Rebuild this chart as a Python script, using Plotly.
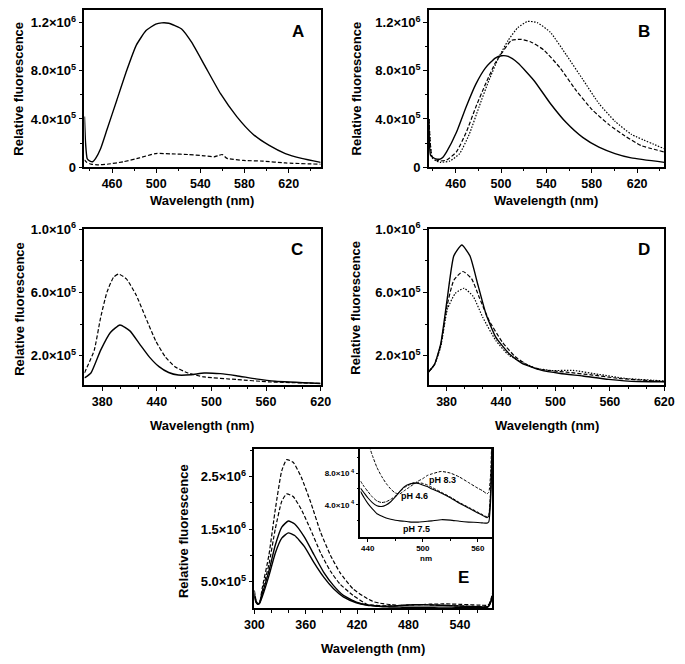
import plotly.graph_objects as go

W, H = 685, 664

# ---------------- data ----------------
# Panel A
A_wl_solid = [435, 436, 437.5, 440, 442.5, 445, 449.6, 455.5, 464.3, 473.1, 482, 490.8, 499.6, 505, 511.3, 517,
              523, 531.9, 543.6, 558.3, 573, 587.7, 602.4, 617, 631.8, 649]
A_solid = [4.2e5, 2.0e5, 7.0e4, 5.0e4, 4.5e4, 7.0e4, 1.53e5, 3.15e5, 5.56e5, 7.98e5, 1.013e6, 1.134e6, 1.188e6,
           1.198e6, 1.195e6, 1.175e6, 1.148e6, 1.04e6, 8.5e5, 6.1e5, 4.2e5, 2.74e5, 1.8e5, 1.13e5, 7.3e4, 4.0e4]
A_wl_dash = [435, 437, 441, 446.7, 455.5, 470.2, 484.9, 499.6, 514.3, 528.9, 543.6, 552.4, 556, 559.8, 564.2, 579,
             596.5, 617, 649]
A_dash = [6.0e4, 4.0e4, 2.5e4, 1.9e4, 2.4e4, 4.5e4, 7.7e4, 1.13e5, 1.1e5, 1.05e5, 9.4e4, 8.6e4, 9.5e4, 1.05e5,
          7.3e4, 5.6e4, 5.0e4, 3.5e4, 2.4e4]

# Panel B
B_wl_solid = [436.4, 437.8, 440, 443.5, 446.3, 449, 452, 460.6, 469.2, 477.8, 486.3, 494.9, 500.6, 506.3, 514.9,
              529.2, 543.5, 557.7, 572, 586.3, 600.5, 614.8, 644]
B_solid = [4.0e5, 1.0e5, 8.0e4, 6.7e4, 6.7e4, 8.5e4, 1.26e5, 2.87e5, 5.0e5, 6.9e5, 8.25e5, 9.06e5, 9.25e5, 9.2e5,
           8.65e5, 7.18e5, 5.29e5, 3.68e5, 2.47e5, 1.66e5, 1.13e5, 7.7e4, 4.0e4]
B_wl_dash = [436.4, 439.2, 443, 446.3, 452, 460.6, 469.2, 477.8, 486.3, 494.9, 500.6, 509.2, 517.8, 526.3, 537.7,
             552, 566.2, 580.5, 594.9, 609, 623.4, 644]
B_dash = [4.0e5, 8.6e4, 6.0e4, 5.1e4, 5.9e4, 1.26e5, 2.87e5, 5.0e5, 6.9e5, 8.65e5, 9.46e5, 1.053e6, 1.061e6,
          1.04e6, 9.73e5, 8.25e5, 6.37e5, 4.76e5, 3.55e5, 2.6e5, 1.8e5, 1.26e5]
B_wl_dot = [436.4, 439.2, 443, 446.3, 454.9, 463.5, 472, 480.6, 489.2, 497.7, 506.3, 514.9, 523.4, 532, 543.5,
            557.7, 572, 586.3, 600.5, 614.8, 644]
B_dot = [4.0e5, 7.9e4, 5.0e4, 4.0e4, 5.1e4, 1.13e5, 2.74e5, 5.0e5, 7.18e5, 9.06e5, 1.053e6, 1.16e6, 1.21e6, 1.2e6,
         1.12e6, 9.3e5, 7.3e5, 5.29e5, 3.81e5, 2.74e5, 1.53e5]

# Panel C
C_wl_dash = [360.5, 371.2, 378.2, 385.3, 392.5, 397.8, 406.6, 417.3, 427.9, 438.6, 449.3, 459.9, 474.1, 491.9,
             527.4, 563, 620]
C_dash = [9.2e4, 2.35e5, 4.4e5, 6.04e5, 6.97e5, 7.17e5, 6.86e5, 5.84e5, 4.4e5, 2.97e5, 1.94e5, 1.32e5, 9.2e4,
          6.7e4, 5.1e4, 3.6e4, 2.6e4]
C_wl_solid = [360.5, 367.6, 378.2, 389, 399.5, 410.4, 421, 431.7, 442.4, 453, 463.6, 477.7, 491.9, 509.7, 527.4,
              548.7, 570, 620]
C_solid = [6.1e4, 9.2e4, 2.35e5, 3.48e5, 3.95e5, 3.58e5, 2.76e5, 1.94e5, 1.32e5, 9.5e4, 7.9e4, 8.1e4, 9.2e4,
           8.8e4, 7.5e4, 5.5e4, 4.0e4, 2.6e4]

# Panel D
D_wl_solid = [360.2, 366.6, 373.6, 380.8, 388, 396.8, 405.7, 414.6, 423.5, 434.2, 448.4, 462.7, 484, 505.4, 530.2,
              558.7, 590.8, 620]
D_solid = [9.97e4, 1.45e5, 2.78e5, 5.65e5, 8.32e5, 9.0e5, 8.32e5, 6.47e5, 4.63e5, 3.19e5, 2.17e5, 1.55e5, 1.1e5,
           8.9e4, 7.3e4, 5.2e4, 3.8e4, 3.7e4]
D_wl_dash = [360.2, 366.6, 373.6, 380.8, 388, 397.9, 407.5, 416.3, 427, 441.3, 455.5, 470, 484, 512.4, 540.9,
             569.4, 620]
D_dash = [9.97e4, 1.45e5, 2.7e5, 5.24e5, 6.78e5, 7.33e5, 6.88e5, 5.65e5, 4.22e5, 2.88e5, 1.96e5, 1.4e5, 1.14e5,
          9.7e4, 7.9e4, 5.8e4, 3.8e4]
D_wl_dot = [360.2, 366.6, 373.6, 380.8, 389.6, 399.3, 409.3, 420, 434.2, 448.4, 477.4, 494.7, 519.6, 548, 576.5, 620]
D_dot = [9.97e4, 1.45e5, 2.6e5, 4.93e5, 5.95e5, 6.27e5, 5.75e5, 4.42e5, 2.98e5, 2.06e5, 1.24e5, 1.08e5, 1.08e5,
         8.3e4, 5.8e4, 4.2e4]

# Panel E: main peak region
E_wl_dash = [300, 302, 304, 306, 309.4, 317, 324.5, 332, 337.7, 345.3, 354.7, 366, 377.4, 388.7, 400, 415.1]
E_dash1 = [3.4e5, 1.5e5, 8.0e4, 1.0e5, 4.0e5, 1.01e6, 1.88e6, 2.61e6, 2.82e6, 2.77e6, 2.49e6, 2.0e6, 1.44e6,
           1.01e6, 6.77e5, 3.69e5]
E_dash2 = [2.8e5, 1.4e5, 8.0e4, 1.0e5, 3.4e5, 8.3e5, 1.51e6, 2.03e6, 2.17e6, 2.12e6, 1.88e6, 1.48e6, 1.05e6,
           7.07e5, 4.6e5, 2.46e5]
E_wl_solid = [300, 302, 304, 306, 309.4, 317, 324.5, 332, 339.6, 347.1, 358.5, 369.8, 381.2, 392.5, 403.8, 419]
E_solid1 = [2.5e5, 1.2e5, 8.0e4, 1.0e5, 2.77e5, 7.07e5, 1.2e6, 1.54e6, 1.655e6, 1.6e6, 1.35e6, 1.01e6, 6.77e5,
            4.3e5, 2.46e5, 1.17e5]
E_solid2 = [2.2e5, 1.1e5, 7.5e4, 9.0e4, 2.27e5, 6.15e5, 1.05e6, 1.33e6, 1.43e6, 1.38e6, 1.17e6, 8.6e5, 5.85e5,
            3.69e5, 2.16e5, 1.05e5]

# Panel E: tail region (also shown in the inset)
T_wl = [432, 436, 440, 445, 450, 455, 460, 465, 470, 475, 480, 485, 490, 495, 500, 505, 510, 520, 530, 540, 550,
        560, 565, 570, 572, 574, 576, 578]
T_ph83 = [1.8e5, 1.5e5, 1.2e5, 1.02e5, 8.7e4, 7.6e4, 6.7e4, 6.0e4, 5.5e4, 5.4e4, 5.8e4, 6.2e4, 6.6e4, 7.0e4, 7.3e4,
          7.7e4, 7.9e4, 8.2e4, 8.0e4, 7.5e4, 6.8e4, 6.1e4, 5.8e4, 5.4e4, 5.6e4, 8.0e4, 1.6e5, 2.8e5]
T_dash2 = [7.0e4, 6.3e4, 5.7e4, 5.0e4, 4.5e4, 4.3e4, 4.4e4, 4.7e4, 5.1e4, 5.7e4, 6.2e4, 6.5e4, 6.8e4, 6.8e4, 6.7e4,
           6.5e4, 6.2e4, 5.6e4, 5.0e4, 4.3e4, 3.7e4, 3.1e4, 2.8e4, 2.5e4, 2.8e4, 6.0e4, 1.4e5, 2.5e5]
T_ph46 = [6.1e4, 5.5e4, 4.9e4, 4.3e4, 3.9e4, 3.8e4, 4.0e4, 4.4e4, 5.0e4, 5.7e4, 6.3e4, 6.6e4, 6.7e4, 6.7e4, 6.5e4,
          6.3e4, 6.0e4, 5.5e4, 4.9e4, 4.2e4, 3.6e4, 3.0e4, 2.7e4, 2.4e4, 2.6e4, 5.5e4, 1.3e5, 2.3e5]
T_ph75 = [5.7e4, 4.9e4, 4.2e4, 3.5e4, 2.9e4, 2.6e4, 2.35e4, 2.2e4, 2.08e4, 2.0e4, 1.95e4, 1.88e4, 1.85e4, 1.85e4,
          1.9e4, 1.95e4, 2.0e4, 2.15e4, 2.1e4, 1.95e4, 1.85e4, 1.8e4, 1.75e4, 1.72e4, 1.9e4, 4.5e4, 1.2e5, 2.1e5]

# Tick labels
AB_yvals = [0, 4e5, 8e5, 1.2e6]
AB_ytext = ["0", "4.0×10<sup>5</sup>", "8.0×10<sup>5</sup>", "1.2×10<sup>6</sup>"]
CD_yvals = [2e5, 6e5, 1e6]
CD_ytext = ["2.0×10<sup>5</sup>", "6.0×10<sup>5</sup>", "1.0×10<sup>6</sup>"]
E_yvals = [5e5, 1.5e6, 2.5e6]
E_ytext = ["5.0×10<sup>5</sup>", "1.5×10<sup>6</sup>", "2.5×10<sup>6</sup>"]
IN_yvals = [4e4, 8e4]
IN_ytext = ["4.0×10<sup> 4</sup>", "8.0×10<sup> 4</sup>"]
AB_xvals = [460, 500, 540, 580, 620]
CD_xvals = [380, 440, 500, 560, 620]
E_xvals = [300, 360, 420, 480, 540]
IN_xvals = [440, 500, 560]

# ---------------- figure ----------------
FONT = "Liberation Sans, Arial, Helvetica, sans-serif"


def px(x):
    return x / W


def py(y):
    return 1 - y / H


fig = go.Figure()

SOLID = dict(color="black", width=1.4, dash="solid")
DASH = dict(color="black", width=1.2, dash="4px,2px")
DOT = dict(color="black", width=1.2, dash="1.5px,1.5px")


def add(x, y, line, ax):
    fig.add_trace(go.Scatter(x=x, y=y, mode="lines", line=dict(**line, shape="spline", smoothing=0.5),
                             xaxis="x" + ax, yaxis="y" + ax, showlegend=False, hoverinfo="skip"))


add(A_wl_solid, A_solid, SOLID, "")
add(A_wl_dash, A_dash, DASH, "")
add(B_wl_solid, B_solid, SOLID, "2")
add(B_wl_dash, B_dash, DASH, "2")
add(B_wl_dot, B_dot, DOT, "2")
add(C_wl_solid, C_solid, SOLID, "3")
add(C_wl_dash, C_dash, DASH, "3")
add(D_wl_solid, D_solid, SOLID, "4")
add(D_wl_dash, D_dash, DASH, "4")
add(D_wl_dot, D_dot, DOT, "4")
add(E_wl_dash + T_wl, E_dash1 + T_ph83, DASH, "5")
add(E_wl_dash + T_wl, E_dash2 + T_dash2, DASH, "5")
add(E_wl_solid + T_wl, E_solid1 + T_ph46, SOLID, "5")
add(E_wl_solid + T_wl, E_solid2 + T_ph75, SOLID, "5")
add(T_wl, T_ph83, dict(color="black", width=1.0, dash="3px,1.5px"), "6")
add(T_wl, T_dash2, dict(color="black", width=1.0, dash="3px,1.5px"), "6")
add(T_wl, T_ph46, dict(color="black", width=1.1, dash="solid"), "6")
add(T_wl, T_ph75, dict(color="black", width=1.1, dash="solid"), "6")


def axis(dom, rng, vals, text, minor_vals, size=12.5, anchor=None, ticklen=4, mlen=2.5):
    d = dict(domain=dom, range=rng, tickmode="array", tickvals=vals, ticks="outside", ticklen=ticklen,
             tickwidth=1.3, tickcolor="black", showline=True, linecolor="black", linewidth=1.6, mirror=True,
             showgrid=False, zeroline=False, fixedrange=True,
             tickfont=dict(family=FONT, size=size, color="black", weight="bold"),
             minor=dict(tickmode="array", tickvals=minor_vals, ticks="outside", ticklen=mlen, tickwidth=1.1,
                        tickcolor="black", showgrid=False))
    if text is not None:
        d["ticktext"] = text
    if anchor:
        d["anchor"] = anchor
    return d


xA = [px(76.7), px(320)]
xB = [px(431.5), px(674)]
yAB = [py(162.3), py(0.8)]
yCD = [py(386), py(226)]
xE = [px(251.7), px(497)]
yE = [py(615), py(451.7)]
xI = [px(361), px(497)]
yI = [py(541.7), py(451.7)]

XMIN_AB = [440, 480, 520, 560, 600, 640]
XMIN_CD = [400, 420, 460, 480, 520, 540, 580, 600]
XMIN_E = [320, 340, 380, 400, 440, 460, 500, 520, 560]

fig.update_layout(
    width=W, height=H, autosize=False, margin=dict(l=0, r=0, t=0, b=0),
    paper_bgcolor="white", plot_bgcolor="white", showlegend=False,
    xaxis=axis(xA, [435, 649], AB_xvals, None, XMIN_AB, anchor="y"),
    yaxis=axis(yAB, [0, 1.307e6], AB_yvals, AB_ytext, [2e5, 6e5, 1e6], size=13, anchor="x"),
    xaxis2=axis(xB, [436.4, 644], AB_xvals, None, XMIN_AB, anchor="y2"),
    yaxis2=axis(yAB, [0, 1.307e6], AB_yvals, AB_ytext, [2e5, 6e5, 1e6], size=13, anchor="x2"),
    xaxis3=axis(xA, [360.5, 620], CD_xvals, None, XMIN_CD, anchor="y3"),
    yaxis3=axis(yCD, [1.54e4, 1.0e6], CD_yvals, CD_ytext, [4e5, 8e5], size=13, anchor="x3"),
    xaxis4=axis(xB, [360.5, 620], CD_xvals, None, XMIN_CD, anchor="y4"),
    yaxis4=axis(yCD, [1.54e4, 1.0e6], CD_yvals, CD_ytext, [4e5, 8e5], size=13, anchor="x4"),
    xaxis5=axis(xE, [300, 578], E_xvals, None, XMIN_E, anchor="y5"),
    yaxis5=axis(yE, [0, 3.02e6], E_yvals, E_ytext, [1e6, 2e6, 3e6], size=13, anchor="x5"),
    xaxis6=axis(xI, [432, 576], IN_xvals, None, [470, 530], size=8, anchor="y6", ticklen=3, mlen=2),
    yaxis6=axis(yI, [0, 1.1e5], IN_yvals, IN_ytext, [2e4, 6e4, 1e5], size=8, anchor="x6", ticklen=3, mlen=2),
)


def ann(text, x, y, size=13, angle=0):
    fig.add_annotation(text=text, x=px(x), y=py(y), xref="paper", yref="paper", showarrow=False,
                       xanchor="center", yanchor="middle", textangle=angle,
                       font=dict(family=FONT, size=size, color="black", weight="bold"))


# axis titles
ann("Relative fluorescence", 9, 82, angle=-90)
ann("Relative fluorescence", 357, 82, angle=-90)
ann("Relative fluorescence", 9, 308, angle=-90)
ann("Relative fluorescence", 356, 307, angle=-90)
ann("Relative fluorescence", 179, 536, angle=-90)
ann("Wavelength (nm)", 198, 197)
ann("Wavelength (nm)", 552, 197)
ann("Wavelength (nm)", 198, 427)
ann("Wavelength (nm)", 553, 427)
ann("Wavelength (nm)", 374, 656)
ann("nm", 428, 564, size=8)

# panel letters
ann("A", 297, 23, size=17)
ann("B", 653, 23, size=17)
ann("C", 296, 247, size=17)
ann("D", 653, 247, size=17)
ann("E", 467, 583, size=17)

# inset labels
ann("pH 8.3", 446, 483, size=9)
ann("pH 4.6", 417, 500, size=9)
ann("pH 7.5", 419, 534, size=9)

fig.write_html("out.html", config={"displayModeBar": False},
               post_script="document.body.style.margin='0';document.body.style.overflow='hidden';")
